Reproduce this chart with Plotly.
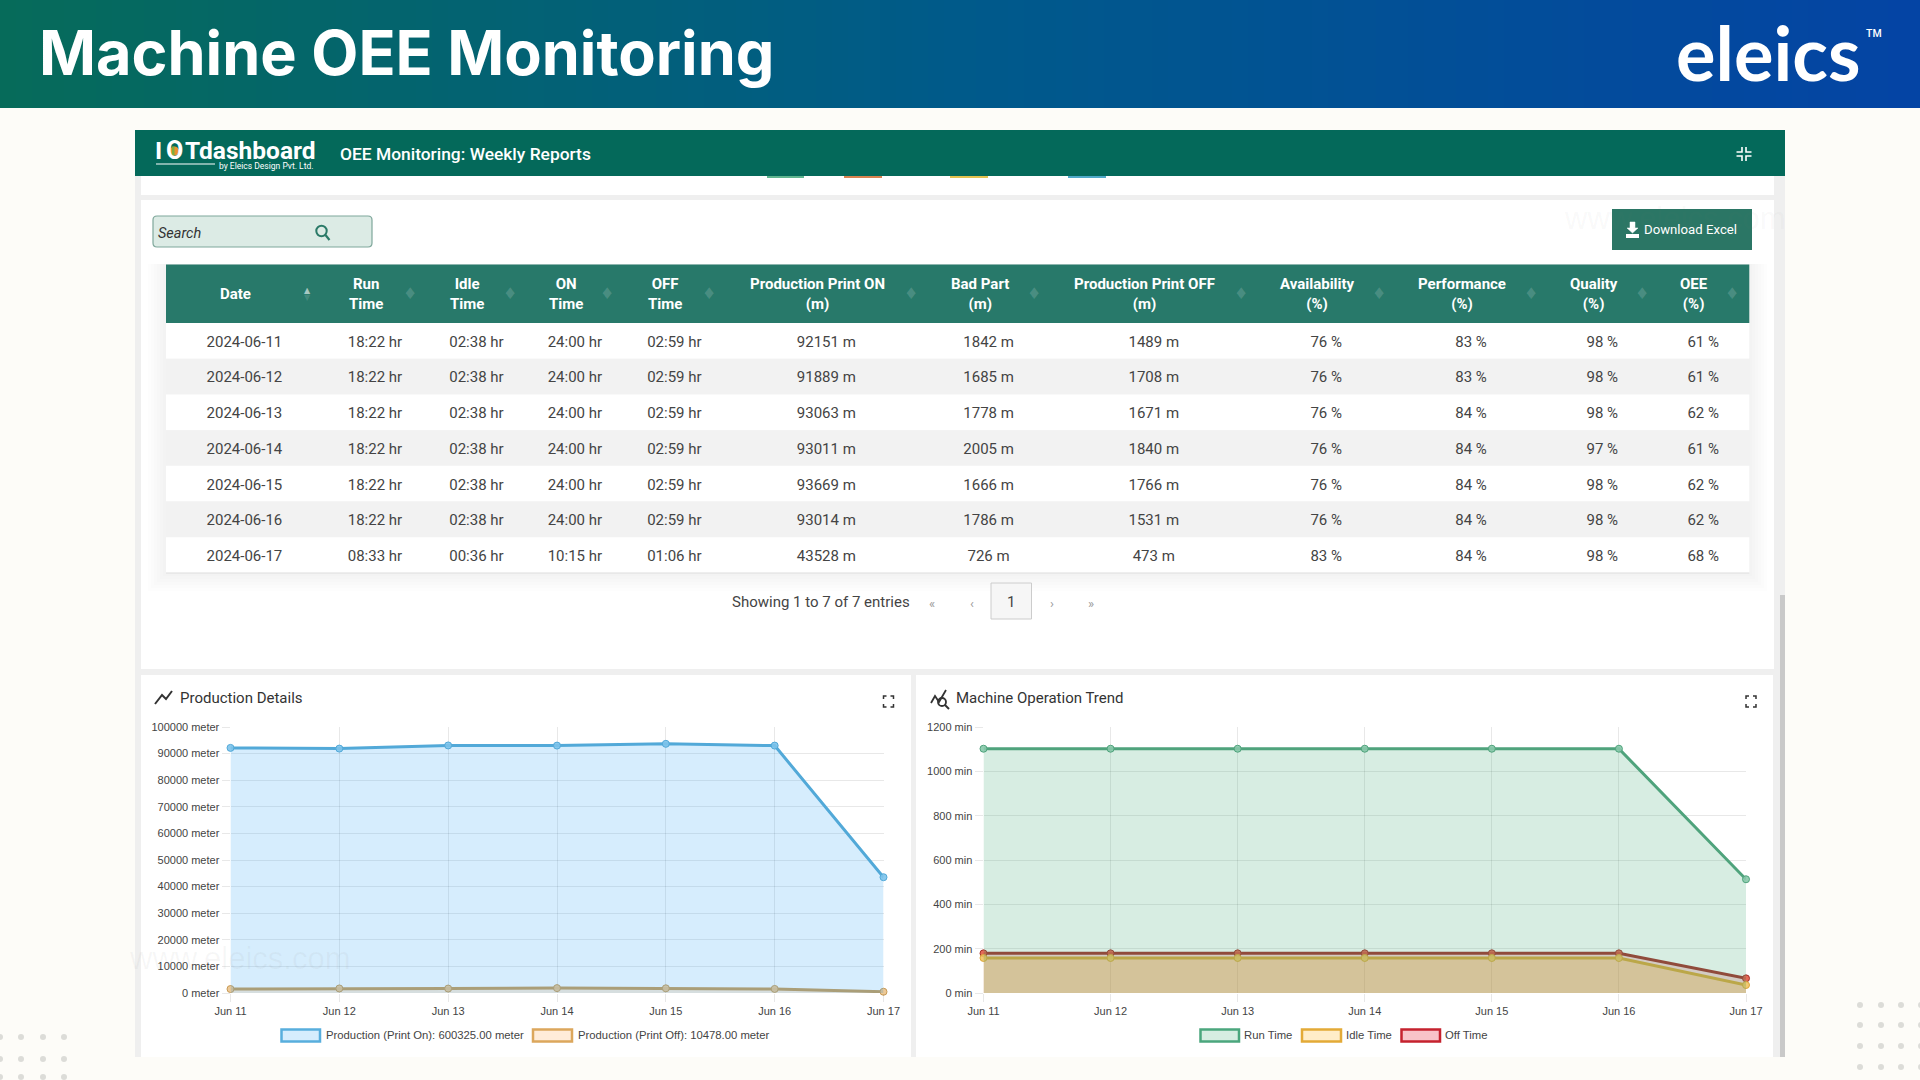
import plotly.graph_objects as go

W = 1920
H = 1080

# table data
table_headers = ['Date', 'Run<br>Time', 'Idle<br>Time', 'ON<br>Time', 'OFF<br>Time', 'Production Print ON<br>(m)',
                 'Bad Part<br>(m)', 'Production Print OFF<br>(m)', 'Availability<br>(%)', 'Performance<br>(%)',
                 'Quality<br>(%)', 'OEE<br>(%)']
dates = ['2024-06-11', '2024-06-12', '2024-06-13', '2024-06-14', '2024-06-15', '2024-06-16', '2024-06-17']
run_time = ['18:22 hr', '18:22 hr', '18:22 hr', '18:22 hr', '18:22 hr', '18:22 hr', '08:33 hr']
idle_time = ['02:38 hr', '02:38 hr', '02:38 hr', '02:38 hr', '02:38 hr', '02:38 hr', '00:36 hr']
on_time = ['24:00 hr', '24:00 hr', '24:00 hr', '24:00 hr', '24:00 hr', '24:00 hr', '10:15 hr']
off_time = ['02:59 hr', '02:59 hr', '02:59 hr', '02:59 hr', '02:59 hr', '02:59 hr', '01:06 hr']
print_on_txt = ['92151 m', '91889 m', '93063 m', '93011 m', '93669 m', '93014 m', '43528 m']
bad_part = ['1842 m', '1685 m', '1778 m', '2005 m', '1666 m', '1786 m', '726 m']
print_off_txt = ['1489 m', '1708 m', '1671 m', '1840 m', '1766 m', '1531 m', '473 m']
availability = ['76 %', '76 %', '76 %', '76 %', '76 %', '76 %', '83 %']
performance = ['83 %', '83 %', '84 %', '84 %', '84 %', '84 %', '84 %']
quality = ['98 %', '98 %', '98 %', '97 %', '98 %', '98 %', '98 %']
oee = ['61 %', '61 %', '62 %', '61 %', '62 %', '62 %', '68 %']

# chart data
days = ['Jun 11', 'Jun 12', 'Jun 13', 'Jun 14', 'Jun 15', 'Jun 16', 'Jun 17']
production_on = [92151, 91889, 93063, 93011, 93669, 93014, 43528]
production_off = [1489, 1708, 1671, 1840, 1766, 1531, 473]
run_minutes = [1102, 1102, 1102, 1102, 1102, 1102, 513]
idle_minutes = [158, 158, 158, 158, 158, 158, 36]
off_minutes = [179, 179, 179, 179, 179, 179, 66]

header_centers = [235.8, 365.6, 467, 566, 665, 817, 979.6, 1144, 1317, 1462, 1594, 1694]
body_widths = [156.8, 104.4, 98.6, 98.4, 100.6, 203.4, 121.2, 209.2, 135.8, 154, 108.4, 93.6]

PAGE = '#fdfcf8'
BAR = '#04695a'
TABLE_HEAD = '#28796a'
TEXT = '#444444'
ROBOTO = 'Roboto'
ARIAL = 'Liberation Sans'
CLEAR = 'rgba(0,0,0,0)'


def px(x):
    return x / W


def py(y):
    return 1 - y / H


shapes = []
notes = []


def rect(x0, y0, x1, y1, fill, line=None, width=0):
    shapes.append(dict(type='rect', xref='paper', yref='paper', x0=px(x0), x1=px(x1), y0=py(y0), y1=py(y1),
                       fillcolor=fill, line=dict(color=line or fill, width=width), layer='below'))


def path(points, color, width=1.5, fill=None, close=False):
    d = 'M ' + ' L '.join('%.5f,%.5f' % (px(a), py(b)) for a, b in points)
    if close:
        d += ' Z'
    shapes.append(dict(type='path', xref='paper', yref='paper', path=d, fillcolor=fill,
                       line=dict(color=color, width=width), layer='below'))


def dot(x, y, r, fill, line=None, width=0):
    shapes.append(dict(type='circle', xref='paper', yref='paper', x0=px(x - r), x1=px(x + r), y0=py(y + r), y1=py(y - r),
                       fillcolor=fill, line=dict(color=line or fill, width=width), layer='below'))


def text(x, y, s, size, color=TEXT, anchor='left', family=ROBOTO, weight=None, style=None):
    font = dict(family=family, size=size, color=color)
    if weight:
        font['weight'] = weight
    if style:
        font['style'] = style
    notes.append(dict(xref='paper', yref='paper', x=px(x), y=py(y), text=s, showarrow=False, xanchor=anchor,
                      yanchor='middle', font=font, borderpad=0, borderwidth=0))


def corners(cx, cy, w, h, leg, color, width=1.5, inward=False):
    for sx in (-1, 1):
        for sy in (-1, 1):
            x = cx + sx * w / 2
            y = cy + sy * h / 2
            if inward:
                path([(x, cy + sy * 2), (cx + sx * 2, cy + sy * 2), (cx + sx * 2, y)], color, width)
            else:
                path([(x - sx * leg, y), (x, y), (x, y - sy * leg)], color, width)


# header band, drawn as strips running to the right edge so there are no seams
left_col = (6, 107, 90)
mid_col = (0, 90, 138)
right_col = (4, 68, 164)
steps = 120
for i in range(steps):
    t = i / (steps - 1)
    if t < 0.5:
        a, b, f = left_col, mid_col, t * 2
    else:
        a, b, f = mid_col, right_col, (t - 0.5) * 2
    c = tuple(round(a[k] + (b[k] - a[k]) * f) for k in range(3))
    rect(i * W / steps, 0, W, 108, 'rgb(%d,%d,%d)' % c)

text(39, 53, 'Machine OEE Monitoring', 61.2, 'white', family='Inter', weight=700)
text(1676, 52, 'eleics', 74, 'white', family='Lato', weight=700)
text(1866, 34, 'TM', 10.5, 'white', family=ROBOTO, weight=500)

# dashboard panel
rect(135, 176, 1785, 1057, '#efefef')
rect(141, 176, 1774, 195, 'white')
rect(141, 200, 1774, 669, 'white')
rect(141, 675, 911, 1057, 'white')
rect(916, 675, 1773, 1057, 'white')
rect(1780, 595, 1785, 1057, '#c9c9c9')
rect(135, 130, 1785, 176, BAR)
for x0, x1, c in [(767, 804, '#5fb58f'), (844, 882, '#d9824f'), (950, 988, '#e3c24f'), (1068, 1106, '#4fa9c9')]:
    rect(x0, 176, x1, 178, c)

# dashboard title bar
dot(174.5, 151, 4.5, '#e8912d')
rect(172, 146.5, 174.5, 155.5, '#7fae3c')
text(155, 150.5, 'I', 24.5, 'white', weight=700)
text(174.5, 150.5, 'O', 25, 'white', anchor='center', weight=700)
text(185, 150.5, 'Tdashboard', 24.5, 'white', weight=700)
rect(156, 163.5, 215, 164.5, 'white')
text(219, 165.5, 'by Eleics Design Pvt. Ltd.', 8.5, 'white')
text(340, 154.5, 'OEE Monitoring: Weekly Reports', 17.4, 'white', weight=500)
corners(1744, 154, 15, 14, 4, 'white', 1.6, inward=True)

# search box and button
shapes.append(dict(type='path', xref='paper', yref='paper', layer='below', fillcolor='#dcebe5',
                   line=dict(color='#7fa79b', width=1.2),
                   path='M %f,%f L %f,%f Q %f,%f %f,%f L %f,%f Q %f,%f %f,%f L %f,%f Q %f,%f %f,%f L %f,%f Q %f,%f %f,%f Z' % (
                       px(157), py(216), px(368), py(216), px(372), py(216), px(372), py(220), px(372), py(243),
                       px(372), py(247), px(368), py(247), px(157), py(247), px(153), py(247), px(153), py(243),
                       px(153), py(220), px(153), py(216), px(157), py(216))))
text(158, 233.5, 'Search', 14.5, '#333333', style='italic')
dot(321.5, 231, 5.2, CLEAR, '#2b7a68', 2)
path([(325.5, 235), (329.5, 240)], '#2b7a68', 2.2)
rect(1612, 209, 1752, 250, '#2b7665')
path([(1630, 222), (1635, 222), (1635, 228), (1638, 228), (1632.5, 233), (1627, 228), (1630, 228)], 'white', 0.5, 'white', True)
rect(1626, 234, 1639, 238, 'white')
text(1644, 229, 'Download Excel', 13.2, 'white')
text(1564, 219, 'www.eleics.com', 31, 'rgba(120,120,120,0.05)', family=ARIAL)

# table backing, rows are painted here so the table text can sit centred in them
for i in range(6):
    g = 3 + i * 3
    rect(166 - g, 264, 1749 + g, 573 + g, 'rgba(0,0,0,0.008)')
rect(166, 264.5, 1749.3, 323, TABLE_HEAD)
for x, s in zip(header_centers, table_headers):
    text(x, 294, s, 15, 'white', anchor='center', weight=700)
row_h = (573 - 323) / len(dates)
for i in range(len(dates)):
    rect(166, 323 + i * row_h, 1749.3, 323 + (i + 1) * row_h, 'white' if i % 2 == 0 else '#f2f2f2')
rect(166, 572.5, 1749.3, 573.5, '#dedede')

# pagination
text(731.5, 602, 'Showing 1 to 7 of 7 entries', 15, TEXT)
for x, s in [(931.5, '«'), (971.5, '‹'), (1052, '›'), (1091, '»')]:
    text(x, 603, s, 13, '#9a9a9a', anchor='center')
rect(991, 583, 1031.5, 619, '#f6f6f6', '#cccccc', 1)
text(1011, 602, '1', 15, TEXT, anchor='center')

# chart cards
path([(155, 704), (162, 695), (166, 699), (172, 691)], '#333333', 2)
text(179.5, 698, 'Production Details', 15, '#333333')
corners(888.5, 701.5, 10, 11, 3, '#333333', 1.5)
path([(931, 703), (935, 696), (939, 702), (946, 690)], '#333333', 1.8)
dot(942, 702, 4, CLEAR, '#333333', 1.8)
path([(945, 705), (949, 709)], '#333333', 2)
text(956, 698, 'Machine Operation Trend', 15, '#333333')
corners(1751, 701.5, 10, 11, 3, '#333333', 1.5)

# chart legends
legend_items = [
    (281.5, 320, 325.5, 'Production (Print On): 600325.00 meter', '#58aedd', 'rgba(70,175,245,0.22)'),
    (533, 572, 577.5, 'Production (Print Off): 10478.00 meter', '#dca75c', 'rgba(255,159,64,0.2)'),
    (1200.5, 1239, 1244, 'Run Time', '#4ba67d', 'rgba(75,175,125,0.22)'),
    (1302, 1341, 1346, 'Idle Time', '#e3aa37', 'rgba(255,190,60,0.28)'),
    (1401.5, 1440, 1445, 'Off Time', '#c5222e', 'rgba(230,40,60,0.28)'),
]
for x0, x1, tx, label, c, f in legend_items:
    rect(x0, 1029.5, x1, 1041.5, f, c, 2.5)
    text(tx, 1035, label, 11.3, TEXT, family=ARIAL)

# watermark and dots
text(129, 958, 'www.eleics.com', 31, 'rgba(120,120,120,0.06)', family=ARIAL)
for x in (1860, 1881, 1901, 1921):
    for y in (1005, 1025, 1046, 1067):
        dot(x, y, 3, '#dcdcd8')
for x in (0, 21, 43, 64):
    for y in (1037, 1059, 1077):
        dot(x, y, 3, '#dcdcd8')

# sort icons over the table header
sort_x = [410, 510, 607, 709, 910.5, 1034, 1240.5, 1379, 1531, 1641.5, 1732]
text(307, 291, '▲', 8, 'rgba(255,255,255,0.6)', anchor='center', family='DejaVu Sans')
text(307, 297, '▼', 8, 'rgba(255,255,255,0.15)', anchor='center', family='DejaVu Sans')
for x in sort_x:
    text(x, 294, '♦', 16, 'rgba(255,255,255,0.16)', anchor='center', family='DejaVu Sans')

fig = go.Figure()


def area(xa, ya, y, name, line, fill, marker):
    fig.add_trace(go.Scatter(x=days, y=y, name=name, xaxis=xa, yaxis=ya, mode='lines+markers', fill='tozeroy',
                             fillcolor=fill, line=dict(color=line, width=3),
                             marker=dict(size=7, color=marker, line=dict(color=line, width=1)),
                             cliponaxis=False, showlegend=False))


area('x', 'y', production_off, 'Production (Print Off)', '#c79a55', 'rgba(255,159,64,0.2)', 'rgba(235,195,140,0.9)')
area('x', 'y', production_on, 'Production (Print On)', '#52a9d8', 'rgba(70,175,245,0.22)', 'rgba(125,195,235,0.9)')
area('x2', 'y2', off_minutes, 'Off Time', '#a5302a', 'rgba(230,40,60,0.2)', 'rgba(225,90,70,0.9)')
area('x2', 'y2', idle_minutes, 'Idle Time', '#dba63a', 'rgba(255,180,40,0.3)', 'rgba(240,195,100,0.9)')
area('x2', 'y2', run_minutes, 'Run Time', '#4fa37c', 'rgba(75,175,125,0.22)', 'rgba(135,200,170,0.9)')

columns = [dates, run_time, idle_time, on_time, off_time, print_on_txt, bad_part, print_off_txt,
           availability, performance, quality, oee]
fig.add_trace(go.Table(
    domain=dict(x=[px(166), px(1750.4)], y=[py(580), py(326.5)]), columnwidth=body_widths,
    header=dict(values=['' for c in columns], height=1, fill_color=CLEAR, line=dict(width=0, color=CLEAR),
                font=dict(size=1)),
    cells=dict(values=columns, height=35.7, align='center', fill_color=CLEAR, line=dict(width=0, color=CLEAR),
               font=dict(family=ROBOTO, size=15, color=TEXT)),
))

grid = 'rgba(0,0,0,0.09)'
x_common = dict(type='category', range=[0, 6], showgrid=True, gridcolor=grid, gridwidth=1, zeroline=False,
                ticks='outside', ticklen=8, tickcolor=grid, tickfont=dict(family=ARIAL, size=11, color=TEXT),
                showline=False, fixedrange=True, automargin=False)
y_common = dict(showgrid=True, gridcolor=grid, gridwidth=1, zeroline=False, ticks='outside', ticklen=8,
                tickcolor=grid, tickfont=dict(family=ARIAL, size=11, color=TEXT), showline=False, fixedrange=True,
                automargin=False, tickformat='d')

fig.update_layout(
    width=W, height=H, margin=dict(l=0, r=0, t=0, b=0, pad=0), autosize=False,
    paper_bgcolor=PAGE, plot_bgcolor=CLEAR, showlegend=False,
    xaxis=dict(domain=[px(230.5), px(883.5)], anchor='y', **x_common),
    yaxis=dict(domain=[py(993), py(727)], anchor='x', range=[0, 100000], dtick=10000, ticksuffix=' meter', **y_common),
    xaxis2=dict(domain=[px(983.5), px(1746)], anchor='y2', **x_common),
    yaxis2=dict(domain=[py(993), py(727)], anchor='x2', range=[0, 1200], dtick=200, ticksuffix=' min', **y_common),
    shapes=shapes, annotations=notes,
)

fig.write_html('out.html', config={'displayModeBar': False},
               post_script="document.body.style.margin='0';document.body.style.overflow='hidden';document.body.style.background='%s';" % PAGE)
